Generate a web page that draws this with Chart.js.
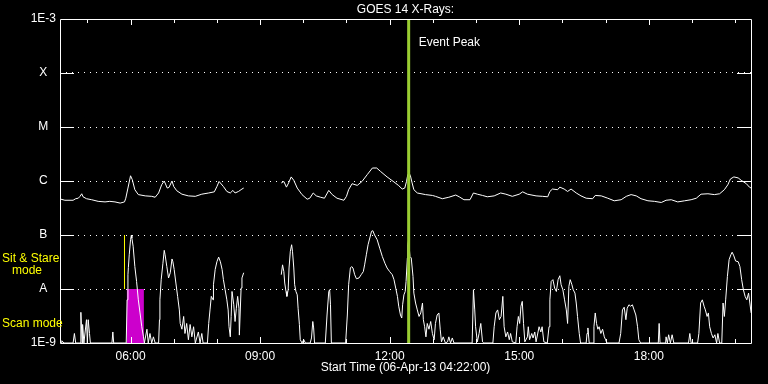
<!DOCTYPE html>
<html>
<head>
<meta charset="utf-8">
<title>GOES 14 X-Rays</title>
<script src="https://cdn.jsdelivr.net/npm/chart.js@4.4.0/dist/chart.umd.min.js"></script>
<style>
  html, body { margin: 0; padding: 0; background: #000; }
</style>
</head>
<body>
<canvas id="goes" width="768" height="384"></canvas>
<script>
// time axis: decimal hours UT on 06-Apr-13, plot runs 16 h from 04:22
const startHour = 4 + 22 / 60;
const endHour = startHour + 16;

// long channel (upper curve), W/m^2 - null marks the data gap
const longTimes = [
  4.39, 4.48, 4.67, 4.73, 4.79, 4.83, 4.87, 4.90, 4.98, 5.10,
  5.25, 5.41, 5.52, 5.64, 5.76, 5.86, 5.89, 5.94, 6.00, 6.04,
  6.10, 6.18, 6.34, 6.49, 6.57, 6.65, 6.72, 6.78, 6.85, 6.89,
  6.96, 7.00, 7.07, 7.19, 7.34, 7.50, 7.65, 7.81, 7.94, 8.00,
  8.05, 8.15, 8.23, 8.31, 8.37, 8.42, 8.50, 8.58, 8.62, 9.00,
  9.49, 9.55, 9.61, 9.66, 9.72, 9.78, 9.86, 9.97, 10.09, 10.15,
  10.23, 10.30, 10.40, 10.49, 10.59, 10.67, 10.78, 10.94, 11.00, 11.05,
  11.13, 11.25, 11.36, 11.48, 11.60, 11.70, 11.79, 11.94, 12.10, 12.21,
  12.29, 12.35, 12.39, 12.42, 12.45, 12.48, 12.52, 12.56, 12.64, 12.83,
  12.99, 13.06, 13.22, 13.37, 13.53, 13.61, 13.72, 13.86, 13.94, 14.03,
  14.15, 14.26, 14.42, 14.57, 14.69, 14.84, 15.00, 15.08, 15.19, 15.39,
  15.54, 15.66, 15.71, 15.77, 15.89, 15.94, 16.04, 16.12, 16.20, 16.32,
  16.43, 16.55, 16.70, 16.76, 16.90, 17.05, 17.20, 17.36, 17.48, 17.59,
  17.71, 17.82, 17.98, 18.13, 18.29, 18.40, 18.52, 18.67, 18.83, 18.98,
  19.10, 19.21, 19.37, 19.52, 19.64, 19.75, 19.83, 19.89, 19.97, 20.07,
  20.14, 20.26, 20.33, 20.37
];
const longFlux = [
  4.6e-7, 4.4e-7, 4.4e-7, 4.7e-7, 4.8e-7, 5.2e-7, 5.8e-7, 5.1e-7, 4.7e-7, 4.5e-7,
  4.2e-7, 4.1e-7, 4.2e-7, 4.1e-7, 3.9e-7, 4.1e-7, 4.8e-7, 7.4e-7, 1.25e-6, 1.06e-6,
  6.9e-7, 5.6e-7, 5.3e-7, 5.2e-7, 5.0e-7, 6.0e-7, 8.5e-7, 1.0e-6, 7.4e-7, 7.6e-7,
  1.0e-6, 7.9e-7, 6.6e-7, 5.7e-7, 5.3e-7, 5.2e-7, 5.7e-7, 6.0e-7, 6.3e-7, 7.9e-7,
  9.8e-7, 7.9e-7, 6.4e-7, 6.0e-7, 6.7e-7, 6.0e-7, 6.4e-7, 7.1e-7, 7.4e-7, null,
  9.2e-7, 9.8e-7, 7.7e-7, 9.2e-7, 1.19e-6, 1.03e-6, 7.4e-7, 5.6e-7, 4.6e-7, 4.8e-7,
  6.0e-7, 5.3e-7, 5.0e-7, 4.8e-7, 6.7e-7, 5.6e-7, 4.8e-7, 4.4e-7, 5.2e-7, 6.9e-7,
  8.9e-7, 8.3e-7, 9.8e-7, 1.31e-6, 1.74e-6, 1.74e-6, 1.5e-6, 1.19e-6, 9.6e-7, 8.2e-7,
  7.1e-7, 7.4e-7, 9.8e-7, 1.31e-6, 1.4e-6, 1.25e-6, 9.2e-7, 6.9e-7, 6.0e-7, 5.6e-7,
  5.4e-7, 5.2e-7, 4.7e-7, 5.0e-7, 5.5e-7, 5.1e-7, 4.5e-7, 4.5e-7, 6.0e-7, 5.7e-7,
  5.4e-7, 5.1e-7, 5.3e-7, 6.0e-7, 5.7e-7, 5.2e-7, 5.7e-7, 6.3e-7, 5.7e-7, 5.3e-7,
  5.2e-7, 5.1e-7, 6.4e-7, 7.1e-7, 6.9e-7, 7.7e-7, 7.1e-7, 6.4e-7, 7.1e-7, 6.0e-7,
  5.3e-7, 4.8e-7, 4.7e-7, 5.4e-7, 5.3e-7, 4.8e-7, 4.3e-7, 4.5e-7, 5.2e-7, 5.6e-7,
  5.3e-7, 4.7e-7, 4.3e-7, 4.2e-7, 4.0e-7, 4.4e-7, 4.5e-7, 4.1e-7, 4.3e-7, 4.5e-7,
  4.8e-7, 5.7e-7, 5.8e-7, 5.6e-7, 5.8e-7, 6.9e-7, 8.5e-7, 1.09e-6, 1.19e-6, 1.14e-6,
  1.03e-6, 8.9e-7, 7.7e-7, 7.4e-7
];

// short channel (lower curve), W/m^2 - 1e-9 sits on the bottom axis
const shortTimes = [
  4.39, 4.41, 4.46, 4.67, 4.70, 4.73, 4.83, 4.85, 4.88, 4.89,
  4.92, 4.98, 5.00, 5.02, 5.05, 5.07, 5.57, 5.59, 5.61, 5.90,
  5.92, 5.94, 5.95, 5.97, 6.00, 6.02, 6.03, 6.06, 6.10, 6.14,
  6.18, 6.22, 6.26, 6.30, 6.32, 6.38, 6.41, 6.45, 6.49, 6.53,
  6.57, 6.65, 6.67, 6.68, 6.71, 6.75, 6.78, 6.80, 6.84, 6.88,
  6.92, 6.96, 6.98, 7.01, 7.05, 7.09, 7.13, 7.15, 7.19, 7.23,
  7.26, 7.30, 7.34, 7.38, 7.42, 7.46, 7.50, 7.57, 7.61, 7.65,
  7.68, 7.78, 7.81, 7.84, 7.87, 7.91, 7.92, 7.96, 8.00, 8.04,
  8.08, 8.12, 8.15, 8.19, 8.23, 8.26, 8.28, 8.31, 8.33, 8.35,
  8.39, 8.42, 8.45, 8.48, 8.51, 8.52, 8.56, 8.58, 8.62, 9.00,
  9.49, 9.52, 9.55, 9.57, 9.60, 9.62, 9.65, 9.67, 9.70, 9.73,
  9.75, 9.78, 9.80, 9.83, 9.86, 9.88, 9.91, 9.93, 9.97, 10.01,
  10.05, 10.16, 10.19, 10.22, 10.24, 10.26, 10.51, 10.55, 10.59, 10.61,
  10.63, 10.65, 10.98, 11.02, 11.05, 11.09, 11.12, 11.15, 11.19, 11.23,
  11.29, 11.34, 11.39, 11.42, 11.46, 11.50, 11.54, 11.58, 11.61, 11.65,
  11.71, 11.77, 11.83, 11.89, 11.94, 12.00, 12.06, 12.10, 12.14, 12.18,
  12.21, 12.25, 12.28, 12.30, 12.33, 12.36, 12.38, 12.41, 12.42, 12.44,
  12.47, 12.50, 12.54, 12.56, 12.60, 12.64, 12.68, 12.72, 12.76, 12.78,
  12.81, 12.84, 12.87, 12.91, 12.95, 12.99, 13.03, 13.06, 13.10, 13.14,
  13.17, 13.20, 13.24, 13.29, 13.34, 13.37, 13.41, 13.45, 13.49, 13.91,
  13.94, 13.97, 13.99, 14.03, 14.07, 14.11, 14.15, 14.18, 14.39, 14.42,
  14.46, 14.50, 14.54, 14.58, 14.62, 14.65, 14.69, 14.73, 14.77, 14.80,
  14.84, 14.92, 14.95, 14.98, 15.01, 15.04, 15.07, 15.10, 15.13, 15.19,
  15.21, 15.24, 15.29, 15.32, 15.36, 15.39, 15.46, 15.50, 15.53, 15.57,
  15.65, 15.69, 15.71, 15.74, 15.78, 15.82, 15.86, 15.90, 15.94, 15.97,
  16.01, 16.05, 16.09, 16.12, 16.15, 16.18, 16.22, 16.25, 16.29, 16.32,
  16.35, 16.39, 16.42, 16.55, 16.57, 16.59, 16.62, 16.71, 16.73, 16.76,
  16.79, 16.82, 16.85, 16.89, 16.93, 16.97, 17.00, 17.03, 17.31, 17.35,
  17.39, 17.43, 17.47, 17.50, 17.54, 17.58, 17.62, 17.66, 17.70, 17.74,
  17.77, 17.81, 18.22, 18.24, 18.26, 18.39, 18.40, 18.43, 18.46, 18.50,
  18.54, 18.58, 18.92, 18.95, 18.98, 19.13, 19.16, 19.20, 19.24, 19.28,
  19.31, 19.35, 19.38, 19.41, 19.45, 19.49, 19.53, 19.57, 19.60, 19.64,
  19.69, 19.72, 19.75, 19.78, 19.82, 19.86, 19.90, 19.93, 19.97, 20.01,
  20.07, 20.11, 20.15, 20.19, 20.23, 20.27, 20.31, 20.34, 20.37
];
const shortFlux = [
  1e-9, 1.1e-9, 1e-9, 1e-9, 1.5e-9, 1e-9, 1e-9, 3.7e-9, 1e-9, 2.2e-9,
  1e-9, 2.7e-9, 1e-9, 2.7e-9, 1.5e-9, 1e-9, 1e-9, 1.6e-9, 1e-9, 1e-9,
  6.3e-9, 1.84e-8, 2.5e-8, 4.3e-8, 8.2e-8, 1.0e-7, 8.8e-8, 6.2e-8, 2.6e-8, 1.38e-8,
  6.3e-9, 3.6e-9, 2.0e-9, 1.3e-9, 1e-9, 1.8e-9, 1e-9, 1.5e-9, 1e-9, 1.3e-9,
  1e-9, 1e-9, 2.7e-9, 6.3e-9, 1.49e-8, 3.0e-8, 5.2e-8, 4.3e-8, 2.6e-8, 1.6e-8,
  2.0e-8, 3.6e-8, 3.2e-8, 2.3e-8, 1.29e-8, 7.3e-9, 4.1e-9, 2.3e-9, 1.8e-9, 3.1e-9,
  1.5e-9, 2.3e-9, 1.15e-9, 2.2e-9, 1.3e-9, 2.0e-9, 1e-9, 1.6e-9, 1e-9, 1.5e-9,
  1e-9, 1e-9, 2.3e-9, 4.1e-9, 7.3e-9, 6.3e-9, 1.2e-8, 2.3e-8, 3.2e-8, 3.9e-8,
  3.2e-8, 2.3e-8, 1.49e-8, 9.7e-9, 6.3e-9, 4.1e-9, 2.0e-9, 1.3e-9, 3.1e-9, 9.0e-9,
  5.1e-9, 2.5e-9, 4.4e-9, 7.3e-9, 4.4e-9, 1.4e-9, 1.04e-8, 1.6e-8, 2.0e-8, null,
  1.84e-8, 2.8e-8, 2.1e-8, 1.29e-8, 9.0e-9, 7.3e-9, 9.7e-9, 2.45e-8, 5.0e-8, 6.6e-8,
  5.0e-8, 2.45e-8, 1.2e-8, 9.0e-9, 7.8e-9, 4.4e-9, 2.2e-9, 1.15e-9, 1e-9, 1.15e-9,
  1e-9, 1e-9, 1.24e-9, 2.5e-9, 1.9e-9, 1e-9, 1e-9, 3.3e-9, 9.0e-9, 9.7e-9,
  5.1e-9, 1e-9, 1e-9, 3.3e-9, 1.2e-8, 2.45e-8, 2.6e-8, 2.45e-8, 1.84e-8, 1.55e-8,
  1.6e-8, 1.84e-8, 2.1e-8, 2.8e-8, 4.3e-8, 6.6e-8, 8.8e-8, 1.17e-7, 1.2e-7, 1.0e-7,
  8.2e-8, 5.7e-8, 4.0e-8, 3.0e-8, 2.45e-8, 2.1e-8, 1.84e-8, 1.49e-8, 1.04e-8, 7.3e-9,
  4.8e-9, 3.3e-9, 2.9e-9, 5.1e-9, 7.8e-9, 9.0e-9, 1.38e-8, 3.75e-8, 6.6e-8, 8.2e-8,
  4.0e-8, 3.75e-8, 1.71e-8, 8.4e-9, 5.5e-9, 4.1e-9, 3.1e-9, 3.6e-9, 5.5e-9, 2.7e-9,
  2.0e-9, 1.3e-9, 2.3e-9, 1.8e-9, 2.5e-9, 1.5e-9, 1.15e-9, 2.3e-9, 3.3e-9, 3.6e-9,
  1.8e-9, 1.05e-9, 1.3e-9, 1e-9, 1.05e-9, 1.3e-9, 1e-9, 1.24e-9, 1e-9, 1e-9,
  9.7e-9, 4.1e-9, 2.0e-9, 1.05e-9, 1.5e-9, 2.3e-9, 1.05e-9, 1e-9, 1e-9, 2.0e-9,
  3.6e-9, 4.1e-9, 2.7e-9, 3.1e-9, 7.3e-9, 2.0e-9, 1.3e-9, 1.6e-9, 1.15e-9, 1.5e-9,
  1.05e-9, 1e-9, 2.0e-9, 3.1e-9, 2.3e-9, 4.8e-9, 5.9e-9, 2.3e-9, 1.05e-9, 1.3e-9,
  2.0e-9, 1.15e-9, 1.5e-9, 1.24e-9, 1.6e-9, 1.05e-9, 2.0e-9, 1.6e-9, 2.0e-9, 1.05e-9,
  1e-9, 2.0e-9, 6.3e-9, 1.38e-8, 1.49e-8, 1.04e-8, 9.0e-9, 1.49e-8, 1.76e-8, 1.2e-8,
  9.7e-9, 6.3e-9, 4.1e-9, 2.3e-9, 1.12e-8, 1.49e-8, 1.2e-8, 9.7e-9, 8.4e-9, 5.5e-9,
  3.1e-9, 1.5e-9, 1e-9, 1e-9, 1.5e-9, 1.9e-9, 1e-9, 1e-9, 2.0e-9, 3.6e-9,
  2.3e-9, 1.8e-9, 2.0e-9, 1.5e-9, 1.8e-9, 1.3e-9, 1.15e-9, 1e-9, 1e-9, 1.5e-9,
  4.1e-9, 4.6e-9, 2.7e-9, 4.4e-9, 5.1e-9, 4.8e-9, 5.1e-9, 4.1e-9, 3.3e-9, 2.0e-9,
  1.15e-9, 1e-9, 1e-9, 2.3e-9, 1e-9, 1e-9, 1.3e-9, 1e-9, 1.42e-9, 1e-9,
  1.42e-9, 1e-9, 1e-9, 1.5e-9, 1e-9, 1e-9, 1.5e-9, 5.5e-9, 6.3e-9, 4.8e-9,
  4.1e-9, 3.1e-9, 3.6e-9, 2.0e-9, 1.5e-9, 1.24e-9, 1.42e-9, 1e-9, 1.5e-9, 1e-9,
  1e-9, 5.5e-9, 3.1e-9, 6.3e-9, 1.71e-8, 3.5e-8, 4.3e-8, 4.8e-8, 4.1e-8, 3.3e-8,
  3.2e-8, 2.6e-8, 1.49e-8, 9.7e-9, 7.3e-9, 6.3e-9, 8.4e-9, 5.5e-9, 3.6e-9
];

// y axis decades and their GOES class letters
const fluxDecades = [1e-9, 1e-8, 1e-7, 1e-6, 1e-5, 1e-4, 1e-3];
const fluxLabels = ['1E-9', 'A', 'B', 'C', 'M', 'X', '1E-3'];
const hourLabels = [6, 9, 12, 15, 18];

// markers
const eventPeakHour = 12.44;
const sitStareHour = 5.86;
const sitStareFlux = [1e-8, 1e-7];
const scanModeHours = [5.91, 6.31];
const scanModeFlux = 1e-8;

const toPoints = (times, vals) => times.map((t, i) => ({ x: t, y: vals[i] }));

const FONT = '"Liberation Sans", Arial, sans-serif';
Chart.defaults.font.family = FONT;
Chart.defaults.font.size = 12;
Chart.defaults.color = '#fff';

// frame, inward ticks and free text drawn the old IDL way
const goesDecor = {
    id: 'goesDecor',
    beforeDraw(chart) {
        const c = chart.ctx;
        c.save();
        c.fillStyle = '#000';
        c.fillRect(0, 0, chart.width, chart.height);
        c.restore();
    },
    afterDraw(chart) {
        const { ctx: c, chartArea: a, scales: { x, y } } = chart;
        c.save();
        c.strokeStyle = '#fff';
        c.lineWidth = 1;
        c.beginPath();
        c.rect(a.left + 0.5, a.top + 0.5, a.right - a.left, a.bottom - a.top);
        // hour ticks top and bottom
        for (let h = Math.ceil(startHour); h <= endHour; h++) {
            const px = Math.round(x.getPixelForValue(h)) + 0.5;
            const len = h % 3 === 0 ? 6 : 4;
            c.moveTo(px, a.top); c.lineTo(px, a.top + len);
            c.moveTo(px, a.bottom); c.lineTo(px, a.bottom - len);
        }
        // decade ticks left and right
        fluxDecades.slice(1, -1).forEach(v => {
            const py = Math.round(y.getPixelForValue(v)) + 0.5;
            c.moveTo(a.left, py); c.lineTo(a.left + 14, py);
            c.moveTo(a.right - 14, py); c.lineTo(a.right, py);
        });
        c.stroke();

        c.font = '12px ' + FONT;
        c.textBaseline = 'middle';
        c.fillStyle = '#fff';
        c.textAlign = 'center';
        c.fillText('GOES 14 X-Rays:', (a.left + a.right) / 2, 10);
        c.textAlign = 'left';
        c.fillText('Event Peak', x.getPixelForValue(eventPeakHour) + 10, a.top + 24);

        c.fillStyle = '#ffff00';
        const yB = y.getPixelForValue(1e-7);
        c.fillText('Sit & Stare', 2, yB + 24);
        c.fillText('mode', 12, yB + 36);
        c.fillText('Scan mode', 2, a.bottom - 19);
        c.restore();
    }
};

new Chart(document.getElementById('goes'), {
    type: 'line',
    data: {
        datasets: [
            {
                label: 'Event Peak',
                data: [{ x: eventPeakHour, y: 1e-3 }, { x: eventPeakHour, y: 1e-9 }],
                borderColor: '#9acd32', borderWidth: 3, pointRadius: 0
            },
            {
                label: 'Sit & Stare',
                data: sitStareFlux.map(f => ({ x: sitStareHour, y: f })),
                borderColor: '#ffff00', borderWidth: 1, pointRadius: 0
            },
            {
                label: '0.5-4.0 A',
                data: toPoints(shortTimes, shortFlux),
                borderColor: '#fff', borderWidth: 1, pointRadius: 0, spanGaps: false
            },
            {
                label: '1.0-8.0 A',
                data: toPoints(longTimes, longFlux),
                borderColor: '#fff', borderWidth: 1, pointRadius: 0, spanGaps: false
            },
            {
                label: 'Scan mode',
                data: scanModeHours.map(h => ({ x: h, y: scanModeFlux })),
                borderColor: '#cc00cc', backgroundColor: '#cc00cc',
                borderWidth: 0, pointRadius: 0, fill: 'start'
            }
        ]
    },
    options: {
        responsive: false,
        devicePixelRatio: 1,
        animation: false,
        layout: { padding: { top: 19, right: 17, left: 0, bottom: 0 } },
        plugins: { legend: { display: false }, tooltip: { enabled: false }, title: { display: false } },
        scales: {
            x: {
                type: 'linear', min: startHour, max: endHour,
                afterBuildTicks: s => { s.ticks = hourLabels.map(v => ({ value: v })); },
                afterFit: s => { s.height = 41; },
                grid: { display: false, drawTicks: false },
                border: { display: false },
                ticks: {
                    color: '#fff', padding: 6, maxRotation: 0, autoSkip: false,
                    callback: v => String(v).padStart(2, '0') + ':00'
                },
                title: {
                    display: true, text: 'Start Time (06-Apr-13 04:22:00)', color: '#fff',
                    padding: { top: 0, bottom: 9 }
                }
            },
            y: {
                type: 'logarithmic', min: 1e-9, max: 1e-3,
                afterBuildTicks: s => { s.ticks = fluxDecades.map(v => ({ value: v })); },
                afterFit: s => { s.width = 60; },
                grid: {
                    color: c => (c.tick && (c.tick.value <= 1e-9 || c.tick.value >= 1e-3)) ? 'rgba(0,0,0,0)' : '#fff',
                    drawTicks: false, lineWidth: 1
                },
                border: { display: false, dash: [1, 5] },
                ticks: {
                    color: '#fff', crossAlign: 'center', padding: 4,
                    callback: (v, i) => fluxLabels[i]
                }
            }
        }
    },
    plugins: [goesDecor]
});
</script>
</body>
</html>
